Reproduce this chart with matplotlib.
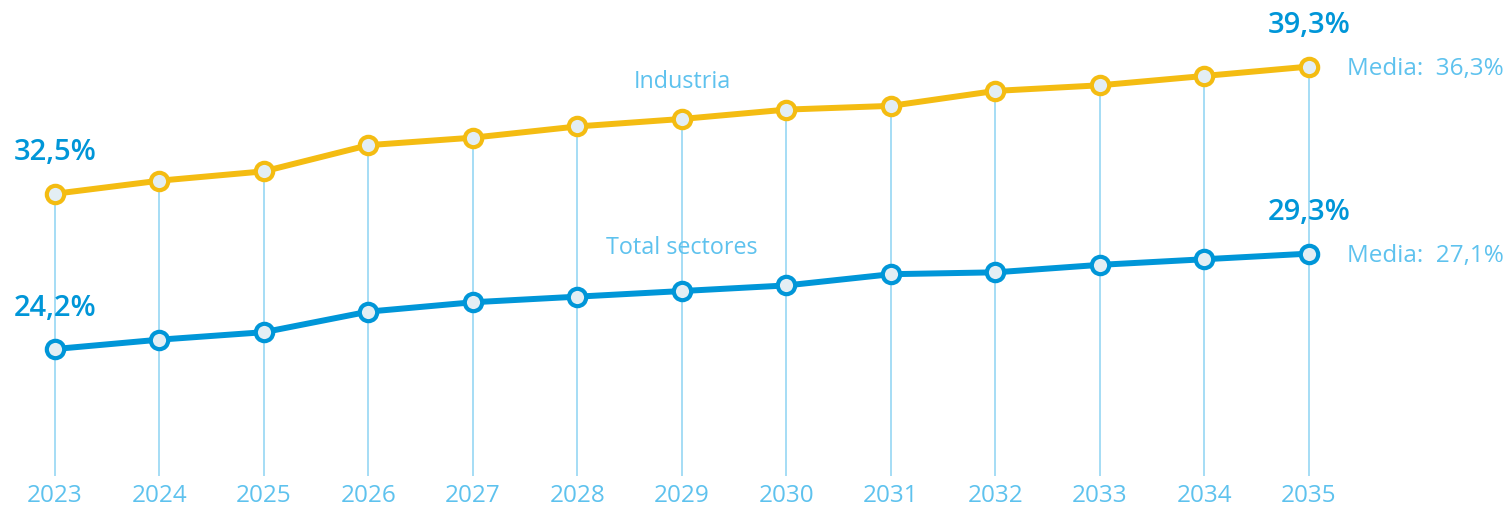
import matplotlib
matplotlib.use("Agg")
import matplotlib.pyplot as plt

years = [2023, 2024, 2025, 2026, 2027, 2028, 2029, 2030, 2031, 2032, 2033, 2034, 2035]
industria = [32.5, 33.2, 33.7, 35.1, 35.5, 36.1, 36.5, 37.0, 37.2, 38.0, 38.3, 38.8, 39.3]
total = [24.2, 24.7, 25.1, 26.2, 26.7, 27.0, 27.3, 27.6, 28.2, 28.3, 28.7, 29.0, 29.3]
series_names = ["Industria", "Total sectores"]
media_labels = ["Media:  36,3%", "Media:  27,1%"]

YELLOW = "#F4BC12"
BLUE = "#0096D8"
LIGHT = "#5EC2EE"
VLINE = "#8DD3F2"
FILL = "#E3EEF4"
FONT = ["Open Sans", "DejaVu Sans"]

plt.rcParams["font.family"] = FONT

fig = plt.figure(figsize=(15.12, 5.08), dpi=100)
ax = fig.add_axes([0, 0, 1, 1])
ax.set_xlim(2022.474, 2036.943)
ax.set_ylim(15.70, 42.86)
ax.axis("off")

# vertical guide lines from bottom to industria points
bottom = 17.41
ax.vlines(years, bottom, industria, color=VLINE, lw=1.1, zorder=1)

def fmt(v):
    return f"{v:.1f}".replace(".", ",") + "%"

for vals, col in [(industria, YELLOW), (total, BLUE)]:
    ax.plot(years, vals, color=col, lw=4.3, zorder=3, solid_capstyle="round",
            marker="o", ms=12.5, mfc=FILL, mec=col, mew=3.0)
    for i in (0, len(years) - 1):
        ax.annotate(fmt(vals[i]), (years[i], vals[i]), xytext=(0, 29.5),
                    textcoords="offset points", ha="center", va="center",
                    fontsize=21, color=BLUE, fontweight=600, zorder=5)

# series labels
ax.text(2029.0, 38.48, series_names[0], ha="center", va="center",
        fontsize=16.8, color=LIGHT, zorder=5)
ax.text(2029.0, 29.6, series_names[1], ha="center", va="center",
        fontsize=16.8, color=LIGHT, zorder=5)

# media labels
ax.text(2035.36, industria[-1] - 0.12, media_labels[0], ha="left", va="center",
        fontsize=17.5, color=LIGHT)
ax.text(2035.36, total[-1] - 0.12, media_labels[1], ha="left", va="center",
        fontsize=17.5, color=LIGHT)

# year labels
for y in years:
    ax.text(y, 16.35, str(y), ha="center", va="center", fontsize=17.5, color=LIGHT)

fig.savefig("out.png", dpi=100)
